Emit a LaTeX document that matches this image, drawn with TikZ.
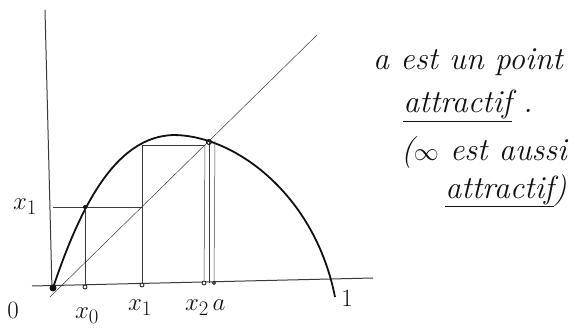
\documentclass[tikz,border=0pt]{standalone}
\usepackage{tikz}
\usetikzlibrary{positioning, calc}
\definecolor{inkBlack}{HTML}{111111}
\definecolor{inkGray}{HTML}{3A3A3A}

\begin{document}
\begin{tikzpicture}[
  x=1pt, y=-1pt,
  every node/.style={text=inkBlack},
  axisline/.style={inkGray, line width=1pt},
  guide/.style={inkGray, line width=0.5pt},
  curveline/.style={inkBlack, line width=1.8pt},
  dot/.style={circle, fill=inkBlack, inner sep=0pt, minimum size=7pt},
  hollow/.style={circle, draw=inkBlack, fill=white, line width=0.8pt, inner sep=0pt, minimum size=4pt},
  lbl/.style={font=\fontsize{28}{32}\selectfont},
  note/.style={font=\fontsize{32}{36}\selectfont\itshape, inner sep=0pt},
]
\useasboundingbox (0,0) rectangle (574,331);

% === AXES ===
\coordinate (xl) at (32,286);
\coordinate (xr) at (373,278);
\coordinate (yt) at (45,10);
\coordinate (yb) at (52,290);
\draw[axisline] (xl) -- (xr);
\draw[axisline] (yt) -- (yb);

% diagonal y = x
\coordinate (dl) at (50,297);
\coordinate (dr) at (317,35);
\draw[guide] (dl) -- (dr);

% === CURVE ===
\coordinate (c-start) at (53,288);
\coordinate (c-top) at (173,135);
\coordinate (c-end) at (335,297);
\draw[curveline] (c-start) .. controls (84,195) and (120,137) .. (c-top)
  .. controls (235,135) and (315,195) .. (c-end);

% === ITERATES ===
\node[dot] (o) at (53,288) {};
\coordinate (c0) at (85,207);
\coordinate (d1) at (142,207);
\coordinate (c1) at (142,145);
\coordinate (d2) at (205,145);
\coordinate (fa) at (209,141);
\coordinate (fb) at (215,141);
\coordinate (y1) at (53,207);
\node[hollow] (a0) at (85,287) {};
\node[hollow] (a1) at (142,285) {};
\node[hollow] (a2) at (204,283) {};
\node[hollow, minimum size=3pt] (aa) at (214,283) {};

\draw[guide] (y1) -- (d1);
\draw[guide] (c0) -- (a0);
\draw[guide] (c1) -- (a1);
\draw[guide] (c1) -- (d2);
\draw[guide] (d2) -- (a2);
\draw[guide] (fb) -- (aa);
\draw[guide] (fa) -- ($(a2)+(5,0)$);
\node[dot, fill=none, draw=inkBlack, line width=0.9pt, minimum size=5pt] (fix) at (209,142) {};
\node[circle, fill=inkBlack, inner sep=0pt, minimum size=4pt] (c0dot) at (c0) {};

% === LABELS ===
\node[lbl] (l0) at (13,310) {$0$};
\node[lbl] (lx0) at (87,316) {$x_0$};
\node[lbl] (lx1) at (140,308) {$x_1$};
\node[lbl] (lx2) at (197,308) {$x_2$};
\node[lbl] (la) at (219,305) {$a$};
\node[lbl] (l1) at (347,298) {$1$};
\node[lbl] (ly1) at (25,207) {$x_1$};

% === NOTE ===
\node[note] (n1) at (468,62) {a est un point};
\node[note] (n2) at (468,106) {\underline{attractif} .};
\node[note] (n3) at (484,153) {($\infty$ est aussi};
\node[note] (n4) at (506,191) {\underline{attractif})};

\end{tikzpicture}
\end{document}
